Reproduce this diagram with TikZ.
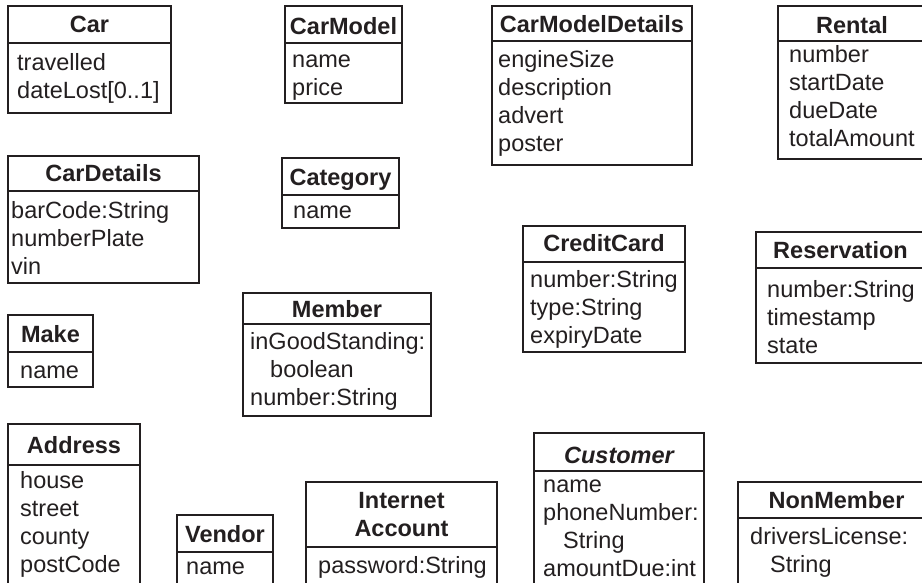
\documentclass[tikz,border=0pt]{standalone}
\usepackage{fontspec}
\setmainfont{Liberation Sans}
\usepackage{tikz}
\usetikzlibrary{positioning}
\definecolor{ink}{HTML}{231F20}

\begin{document}
\begin{tikzpicture}[x=1pt,y=-1pt,
    box/.style={draw=ink,line width=1.5pt},
    title/.style={anchor=north,yshift=19.6pt,inner sep=0pt,align=center,text=ink,
        font=\fontsize{23.5}{28}\selectfont\bfseries},
    attr/.style={anchor=north west,yshift=19.6pt,inner sep=0pt,align=left,text=ink,
        font=\fontsize{23.5}{28}\selectfont}]
    \useasboundingbox (0,0) rectangle (922,583);
    \clip (0,0) rectangle (922,583);

    % Car
    \draw[box] (8,6) rectangle (171,113) (8,43) -- (171,43);
    \node[title] (car) at (89.5,32.5) {\strut Car};
    \node[attr] (carattr) at (17,70.5) {\strut travelled\\dateLost[0..1]};

    % CarModel
    \draw[box] (285,6) rectangle (402,103) (285,43) -- (402,43);
    \node[title] (carmodel) at (343.5,34) {\strut CarModel};
    \node[attr] (carmodelattr) at (292,67) {\strut name\\price};

    % CarModelDetails
    \draw[box] (492,6) rectangle (692,165) (492,41) -- (692,41);
    \node[title] (cmdetails) at (592,32.5) {\strut CarModelDetails};
    \node[attr] (cmdetailsattr) at (498,67) {\strut engineSize\\description\\advert\\poster};

    % Rental (cut off at the right)
    \draw[box] (778,6) rectangle (926,159) (778,41) -- (926,41);
    \node[title] (rental) at (852,33) {\strut Rental};
    \node[attr] (rentalattr) at (789,62) {\strut number\\startDate\\dueDate\\totalAmount};

    % CarDetails
    \draw[box] (8,156) rectangle (199,283) (8,191) -- (199,191);
    \node[title] (cardetails) at (103.5,181) {\strut CarDetails};
    \node[attr] (cardetailsattr) at (11,218) {\strut barCode:String\\numberPlate\\vin};

    % Category
    \draw[box] (282,158) rectangle (399,228) (282,195) -- (399,195);
    \node[title] (category) at (340.5,185) {\strut Category};
    \node[attr] (categoryattr) at (293,218) {\strut name};

    % Member
    \draw[box] (243,293) rectangle (431,416) (243,324) -- (431,324);
    \node[title] (member) at (337,317) {\strut Member};
    \node[attr] (memberattr) at (250,349) {\strut inGoodStanding:\\\hspace*{20pt}boolean\\number:String};

    % CreditCard
    \draw[box] (523,226) rectangle (685,352) (523,262) -- (685,262);
    \node[title] (creditcard) at (604,251) {\strut CreditCard};
    \node[attr] (creditcardattr) at (530,287) {\strut number:String\\type:String\\expiryDate};

    % Reservation
    \draw[box] (756,232) rectangle (925,363) (756,268) -- (925,268);
    \node[title] (reservation) at (840.5,258) {\strut Reservation};
    \node[attr] (reservationattr) at (767,297) {\strut number:String\\timestamp\\state};

    % Make
    \draw[box] (8,315) rectangle (93,387) (8,352) -- (93,352);
    \node[title] (make) at (50.5,342) {\strut Make};
    \node[attr] (makeattr) at (20,378) {\strut name};

    % unterste Reihe, unten abgeschnitten
    % Address
    \draw[box] (8,424) rectangle (140,600) (8,465) -- (140,465);
    \node[title] (address) at (74,453.5) {\strut Address};
    \node[attr] (addressattr) at (20,488) {\strut house\\street\\county\\postCode};

    % Vendor
    \draw[box] (177,515) rectangle (273,600) (177,552) -- (273,552);
    \node[title] (vendor) at (225,542) {\strut Vendor};
    \node[attr] (vendorattr) at (186,574) {\strut name};

    % Internet Account
    \draw[box] (306,482) rectangle (497,600) (306,547) -- (497,547);
    \node[title] (account) at (401.5,508.5) {\strut Internet\\Account};
    \node[attr] (accountattr) at (318,573) {\strut password:String};

    % Customer (abstrakt)
    \draw[box] (534,433) rectangle (704,600) (534,471) -- (704,471);
    \node[title,font=\fontsize{23.5}{28}\selectfont\bfseries\itshape] (customer) at (619,463) {\strut Customer};
    \node[attr] (customerattr) at (543,492) {\strut name\\phoneNumber:\\\hspace*{20pt}String\\amountDue:int};

    % NonMember
    \draw[box] (738,482) rectangle (935,600) (738,518) -- (935,518);
    \node[title] (nonmember) at (836.5,508.5) {\strut NonMember};
    \node[attr] (nonmemberattr) at (750,544) {\strut driversLicense:\\\hspace*{20pt}String};
\end{tikzpicture}
\end{document}
